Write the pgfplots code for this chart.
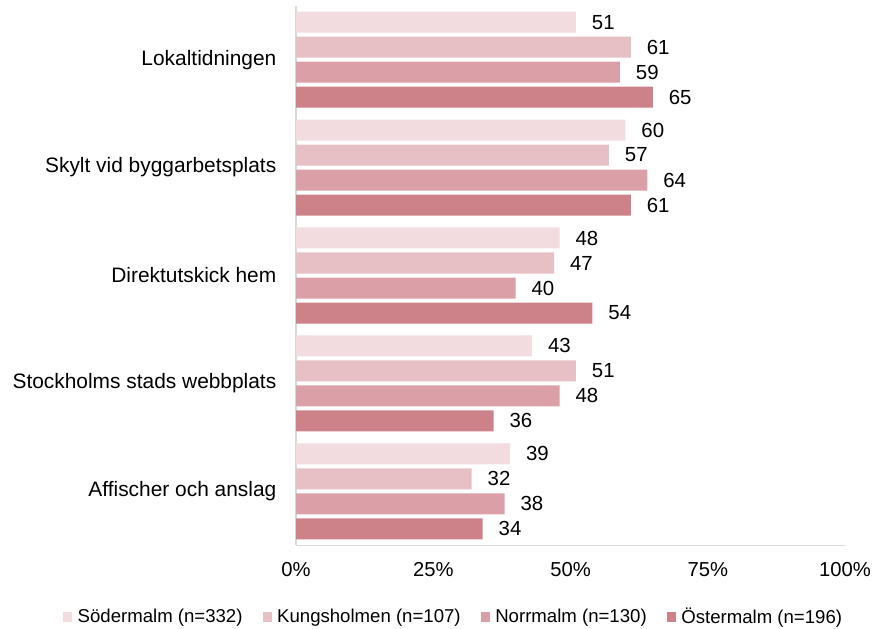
\documentclass[border=0pt]{standalone}
\usepackage{pgfplots}
\pgfplotsset{compat=1.18}
\usepackage{fontspec}
\setmainfont{Liberation Sans}
\definecolor{cA}{HTML}{F2DCDF}
\definecolor{cB}{HTML}{E6C0C5}
\definecolor{cC}{HTML}{DBA0A7}
\definecolor{cD}{HTML}{CD8189}
\definecolor{axgray}{HTML}{D9D9D9}
\begin{document}
\begin{tikzpicture}
\useasboundingbox (0,0) rectangle (438pt,314pt);
\begin{axis}[
  at={(148pt,41.35pt)}, anchor=south west,
  scale only axis, width=274.5pt, height=269.8pt,
  xbar, bar shift=0pt, bar width=0.1946,
  xmin=0, xmax=100, ymin=0.5, ymax=5.5,
  axis x line=bottom, axis y line=left,
  axis line style={draw=axgray, line width=0.75pt, -},
  major tick length=0pt,
  xtick={0,25,50,75,100},
  xticklabels={0\%,25\%,50\%,75\%,100\%},
  ytick={1,2,3,4,5},
  yticklabels={Affischer och anslag,Stockholms stads webbplats,Direktutskick hem,Skylt vid byggarbetsplats,Lokaltidningen},
  xticklabel style={font=\fontsize{10.1}{12}\selectfont, inner sep=0pt, anchor=north, yshift=-8.2pt},
  yticklabel style={font=\fontsize{10.45}{12}\selectfont, inner sep=0pt, anchor=east, xshift=-9.65pt},
  nodes near coords,
  every node near coord/.append style={font=\fontsize{10.2}{12}\selectfont, anchor=west, inner sep=0pt, xshift=7.8pt, text=black},
  /pgf/number format/assume math mode=true,
  clip=false,
  legend columns=4,
  legend style={at={(-0.425,-0.133)}, anchor=west, draw=none, fill=none,
    font=\fontsize{9.3}{11}\selectfont, inner sep=0pt, column sep=2.8pt,
    nodes={inner sep=0pt}},
  legend image code/.code={\fill[#1] (0pt,-2.3pt) rectangle (4.5pt,2.3pt);},
]
\addplot[fill=cA, draw=none] coordinates {(51,5.3476) (60,4.3476) (48,3.3476) (43,2.3476) (39,1.3476)};
\addplot[fill=cB, draw=none] coordinates {(61,5.1159) (57,4.1159) (47,3.1159) (51,2.1159) (32,1.1159)};
\addplot[fill=cC, draw=none] coordinates {(59,4.8841) (64,3.8841) (40,2.8841) (48,1.8841) (38,0.8841)};
\addplot[fill=cD, draw=none] coordinates {(65,4.6524) (61,3.6524) (54,2.6524) (36,1.6524) (34,0.6524)};
\addlegendentry{Södermalm (n=332)\rule{7.2pt}{0pt}}
\addlegendentry{Kungsholmen (n=107)\rule{7.2pt}{0pt}}
\addlegendentry{Norrmalm (n=130)\rule{7.2pt}{0pt}}
\addlegendentry{Östermalm (n=196)}
\end{axis}
\end{tikzpicture}
\end{document}
